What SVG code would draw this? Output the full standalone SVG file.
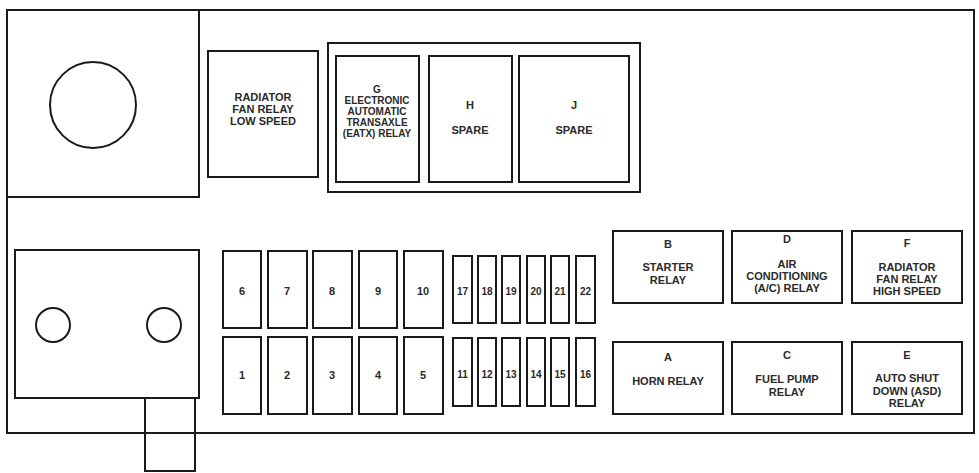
<svg xmlns="http://www.w3.org/2000/svg" width="979" height="473" viewBox="0 0 979 473">
<style>
rect, circle, path { fill: none; stroke: #1a1a1a; stroke-width: 2; }
.bg { fill: #ffffff; stroke: none; }
text { font-family: "Liberation Sans", Arial, sans-serif; font-weight: bold; font-size: 11px; fill: #2a2a2a; text-anchor: middle; }
.s { font-size: 10px; }
.f { font-size: 11px; }
</style>
<rect class="bg" x="0" y="0" width="979" height="473"/>
<g id="housing">
<rect x="7" y="10" width="967" height="423"/>
<rect x="7" y="10" width="192" height="187"/>
<circle cx="93" cy="105" r="43"/>
</g>
<g id="connector-block">
<rect x="145" y="398" width="50" height="73"/>
<rect x="15" y="250" width="184" height="148" style="fill:#fff"/>
<circle cx="53" cy="325" r="17"/>
<circle cx="164" cy="325" r="17"/>
</g>
<g id="relay-radiator-low">
<rect x="208" y="51" width="110" height="126"/>
<text x="263" y="101">RADIATOR</text>
<text x="263" y="113">FAN RELAY</text>
<text x="263" y="125">LOW SPEED</text>
</g>
<g id="relay-group">
<rect x="328" y="43" width="312" height="149"/>
</g>
<g id="relay-G">
<rect x="336" y="56" width="83" height="126"/>
<text class="s" x="377" y="93">G</text>
<text class="s" x="377" y="104">ELECTRONIC</text>
<text class="s" x="377" y="115">AUTOMATIC</text>
<text class="s" x="377" y="126">TRANSAXLE</text>
<text class="s" x="377" y="137">(EATX) RELAY</text>
</g>
<g id="relay-H">
<rect x="429" y="56" width="83" height="126"/>
<text x="470" y="109">H</text>
<text x="470" y="134">SPARE</text>
</g>
<g id="relay-J">
<rect x="519" y="56" width="110" height="126"/>
<text x="574" y="109">J</text>
<text x="574" y="134">SPARE</text>
</g>
<g id="fuse-6"><rect x="223" y="251" width="38" height="77"/><text class="f" x="242" y="295">6</text></g>
<g id="fuse-7"><rect x="268" y="251" width="39" height="77"/><text class="f" x="287" y="295">7</text></g>
<g id="fuse-8"><rect x="313" y="251" width="39" height="77"/><text class="f" x="332" y="295">8</text></g>
<g id="fuse-9"><rect x="359" y="251" width="38" height="77"/><text class="f" x="378" y="295">9</text></g>
<g id="fuse-10"><rect x="404" y="251" width="39" height="77"/><text class="f" x="423" y="295">10</text></g>
<g id="fuse-1"><rect x="223" y="337" width="38" height="77"/><text class="f" x="242" y="379">1</text></g>
<g id="fuse-2"><rect x="268" y="337" width="39" height="77"/><text class="f" x="287" y="379">2</text></g>
<g id="fuse-3"><rect x="313" y="337" width="39" height="77"/><text class="f" x="332" y="379">3</text></g>
<g id="fuse-4"><rect x="359" y="337" width="38" height="77"/><text class="f" x="378" y="379">4</text></g>
<g id="fuse-5"><rect x="404" y="337" width="39" height="77"/><text class="f" x="423" y="379">5</text></g>
<g id="fuse-17"><rect x="453" y="256" width="19" height="67"/><text class="s" x="462.5" y="295">17</text></g>
<g id="fuse-18"><rect x="478" y="256" width="18" height="67"/><text class="s" x="487" y="295">18</text></g>
<g id="fuse-19"><rect x="502" y="256" width="18" height="67"/><text class="s" x="511" y="295">19</text></g>
<g id="fuse-20"><rect x="527" y="256" width="18" height="67"/><text class="s" x="536" y="295">20</text></g>
<g id="fuse-21"><rect x="551" y="256" width="18" height="67"/><text class="s" x="560" y="295">21</text></g>
<g id="fuse-22"><rect x="576" y="256" width="19" height="67"/><text class="s" x="585.5" y="295">22</text></g>
<g id="fuse-11"><rect x="453" y="338" width="19" height="68"/><text class="s" x="462.5" y="378">11</text></g>
<g id="fuse-12"><rect x="478" y="338" width="18" height="68"/><text class="s" x="487" y="378">12</text></g>
<g id="fuse-13"><rect x="502" y="338" width="18" height="68"/><text class="s" x="511" y="378">13</text></g>
<g id="fuse-14"><rect x="527" y="338" width="18" height="68"/><text class="s" x="536" y="378">14</text></g>
<g id="fuse-15"><rect x="551" y="338" width="18" height="68"/><text class="s" x="560" y="378">15</text></g>
<g id="fuse-16"><rect x="576" y="338" width="19" height="68"/><text class="s" x="585.5" y="378">16</text></g>
<g id="relay-B">
<rect x="613" y="231" width="110" height="72"/>
<text x="668" y="248">B</text>
<text x="668" y="271">STARTER</text>
<text x="668" y="284">RELAY</text>
</g>
<g id="relay-D">
<rect x="732" y="231" width="110" height="72"/>
<text x="787" y="243">D</text>
<text x="787" y="268">AIR</text>
<text x="787" y="280">CONDITIONING</text>
<text x="787" y="292">(A/C) RELAY</text>
</g>
<g id="relay-F">
<rect x="852" y="231" width="110" height="72"/>
<text x="907" y="247">F</text>
<text x="907" y="271">RADIATOR</text>
<text x="907" y="283">FAN RELAY</text>
<text x="907" y="295">HIGH SPEED</text>
</g>
<g id="relay-A">
<rect x="613" y="342" width="110" height="72"/>
<text x="668" y="361">A</text>
<text x="668" y="385">HORN RELAY</text>
</g>
<g id="relay-C">
<rect x="732" y="342" width="110" height="72"/>
<text x="787" y="359">C</text>
<text x="787" y="383">FUEL PUMP</text>
<text x="787" y="396">RELAY</text>
</g>
<g id="relay-E">
<rect x="852" y="342" width="110" height="72"/>
<text x="907" y="359">E</text>
<text x="907" y="382">AUTO SHUT</text>
<text x="907" y="395">DOWN (ASD)</text>
<text x="907" y="407">RELAY</text>
</g>
<g id="connectors"></g>
</svg>
